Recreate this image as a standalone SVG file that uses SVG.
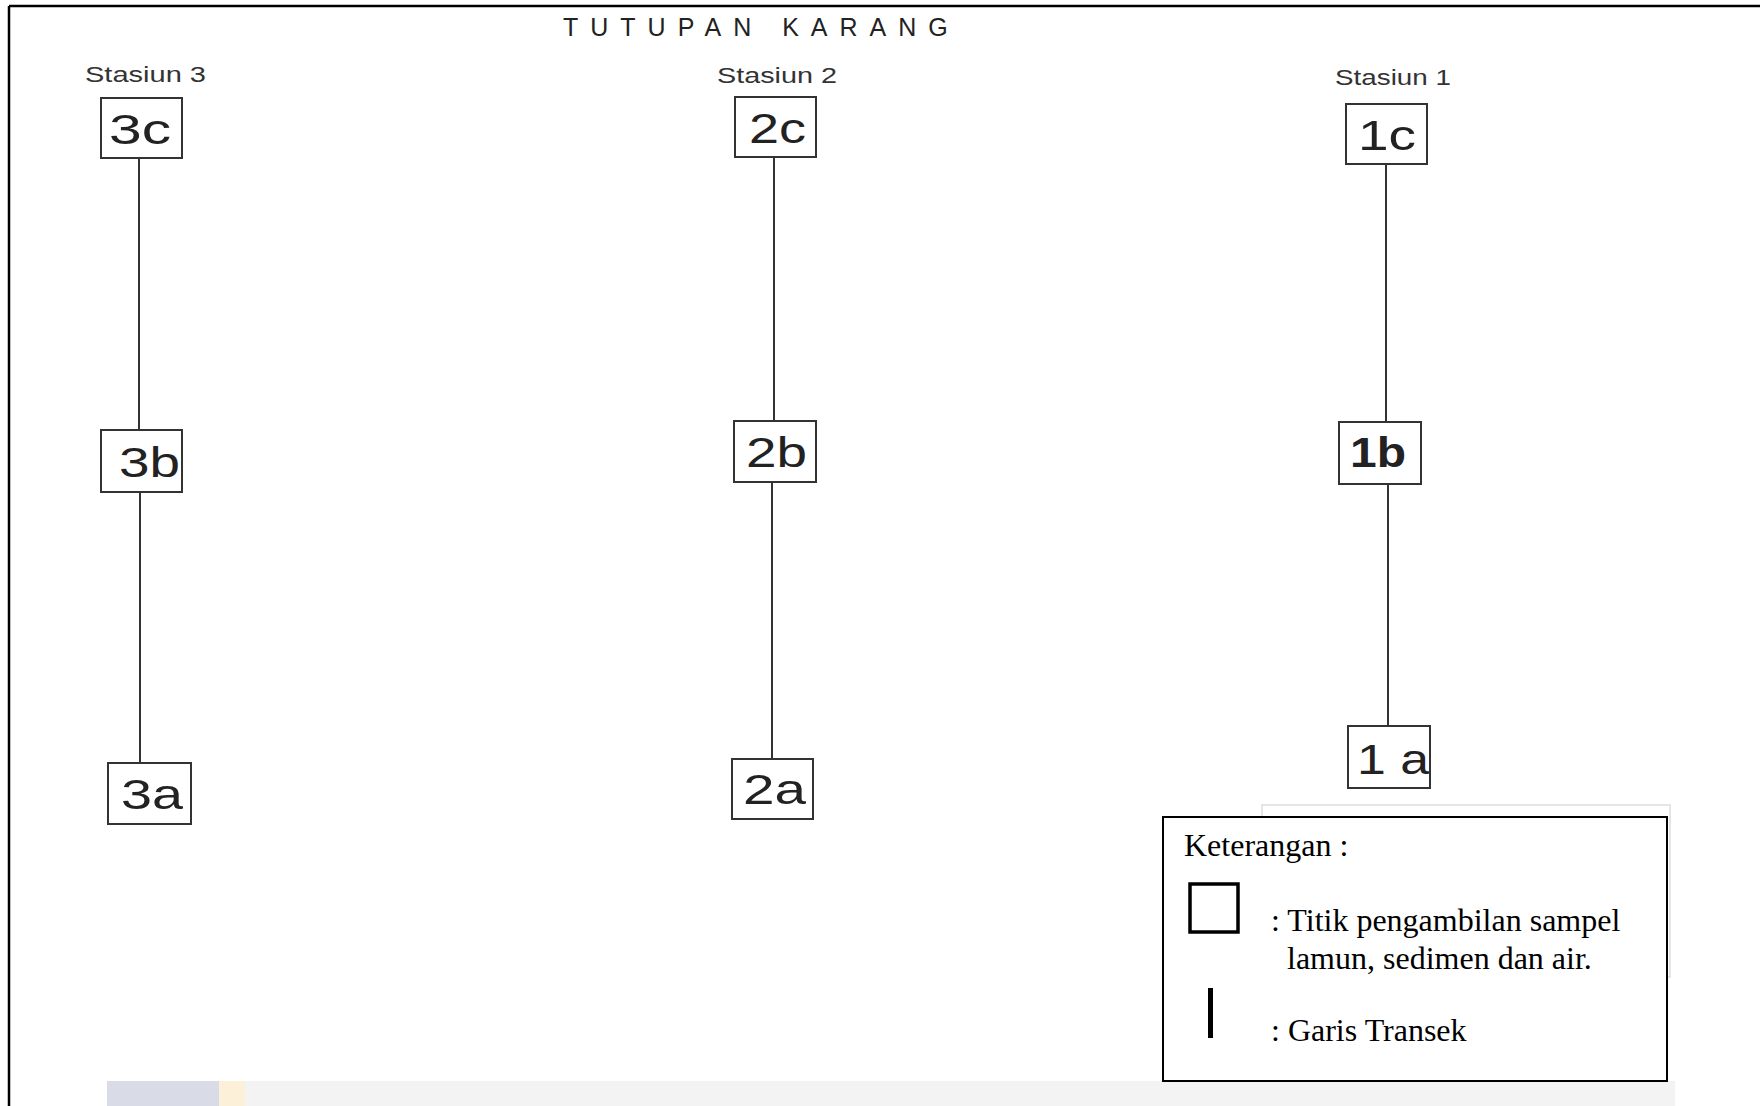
<svg xmlns="http://www.w3.org/2000/svg" width="1760" height="1106" viewBox="0 0 1760 1106">
<style>
.box{fill:#fff;stroke:#333;stroke-width:2}
.lbl{font-family:"Liberation Sans",Arial,sans-serif;font-size:42px;fill:#222}
.st{font-family:"Liberation Sans",Arial,sans-serif;font-size:22px;fill:#333}
.conn line{stroke:#333;stroke-width:2}
.lg{font-family:"Liberation Serif","Times New Roman",serif;font-size:32px;fill:#000}
</style>
<rect width="1760" height="1106" fill="#fff"/>
<!-- bottom watermark band -->
<rect x="107" y="1081" width="112" height="25" fill="#d9dce6"/>
<rect x="219" y="1081" width="26" height="25" fill="#fdf0d8"/>
<rect x="245" y="1081" width="1430" height="25" fill="#f3f3f3"/>
<!-- frame -->
<line x1="9" y1="6" x2="1760" y2="6" stroke="#000" stroke-width="2.5"/>
<line x1="9" y1="6" x2="9" y2="1106" stroke="#000" stroke-width="2.5"/>
<text x="563" y="36" font-family="'Liberation Sans',Arial,sans-serif" font-size="25" letter-spacing="12" fill="#222">TUTUPAN KARANG</text>
<text class="st" x="85" y="82" textLength="121" lengthAdjust="spacingAndGlyphs">Stasiun 3</text>
<text class="st" x="717" y="83" textLength="120" lengthAdjust="spacingAndGlyphs">Stasiun 2</text>
<text class="st" x="1335" y="85" textLength="116" lengthAdjust="spacingAndGlyphs">Stasiun 1</text>
<g class="conn" id="connectors">
<line x1="139" y1="158" x2="139" y2="430"/>
<line x1="140" y1="492" x2="140" y2="763"/>
<line x1="774" y1="157" x2="774" y2="421"/>
<line x1="772" y1="482" x2="772" y2="759"/>
<line x1="1386" y1="164" x2="1386" y2="422"/>
<line x1="1388" y1="484" x2="1388" y2="726"/>
</g>
<g id="n3c"><rect class="box" x="101" y="98" width="81" height="60"/><text class="lbl" x="109" y="144" textLength="62" lengthAdjust="spacingAndGlyphs">3c</text></g>
<g id="n3b"><rect class="box" x="101" y="430" width="81" height="62"/><text class="lbl" x="119" y="477" textLength="61" lengthAdjust="spacingAndGlyphs">3b</text></g>
<g id="n3a"><rect class="box" x="108" y="763" width="83" height="61"/><text class="lbl" x="121" y="809" textLength="62" lengthAdjust="spacingAndGlyphs">3a</text></g>
<g id="n2c"><rect class="box" x="735" y="97" width="81" height="60"/><text class="lbl" x="749" y="143" textLength="57" lengthAdjust="spacingAndGlyphs">2c</text></g>
<g id="n2b"><rect class="box" x="734" y="421" width="82" height="61"/><text class="lbl" x="746" y="467" textLength="61" lengthAdjust="spacingAndGlyphs">2b</text></g>
<g id="n2a"><rect class="box" x="732" y="759" width="81" height="60"/><text class="lbl" x="743" y="804" textLength="63" lengthAdjust="spacingAndGlyphs">2a</text></g>
<g id="n1c"><rect class="box" x="1346" y="104" width="81" height="60"/><text class="lbl" x="1358" y="150" textLength="58" lengthAdjust="spacingAndGlyphs">1c</text></g>
<g id="n1b"><rect class="box" x="1339" y="422" width="82" height="62"/><text class="lbl" x="1350" y="467" font-weight="bold" textLength="56" lengthAdjust="spacingAndGlyphs">1b</text></g>
<g id="n1a"><rect class="box" x="1348" y="726" width="82" height="62"/><text class="lbl" x="1357" y="774" textLength="72" lengthAdjust="spacingAndGlyphs">1 a</text></g>
<g id="legend">
<rect x="1262" y="805" width="408" height="172" fill="#fff" stroke="#ddd" stroke-width="1.5"/>
<rect x="1163" y="817" width="504" height="264" fill="#fff" stroke="#000" stroke-width="2"/>
<text class="lg" x="1184" y="856">Keterangan :</text>
<rect x="1190" y="884" width="48" height="48" fill="none" stroke="#000" stroke-width="3.5"/>
<text class="lg" x="1271" y="931">: Titik pengambilan sampel</text>
<text class="lg" x="1287" y="969">lamun, sedimen dan air.</text>
<rect x="1208" y="988" width="5" height="50" fill="#000"/>
<text class="lg" x="1271" y="1041">: Garis Transek</text>
</g>
</svg>
